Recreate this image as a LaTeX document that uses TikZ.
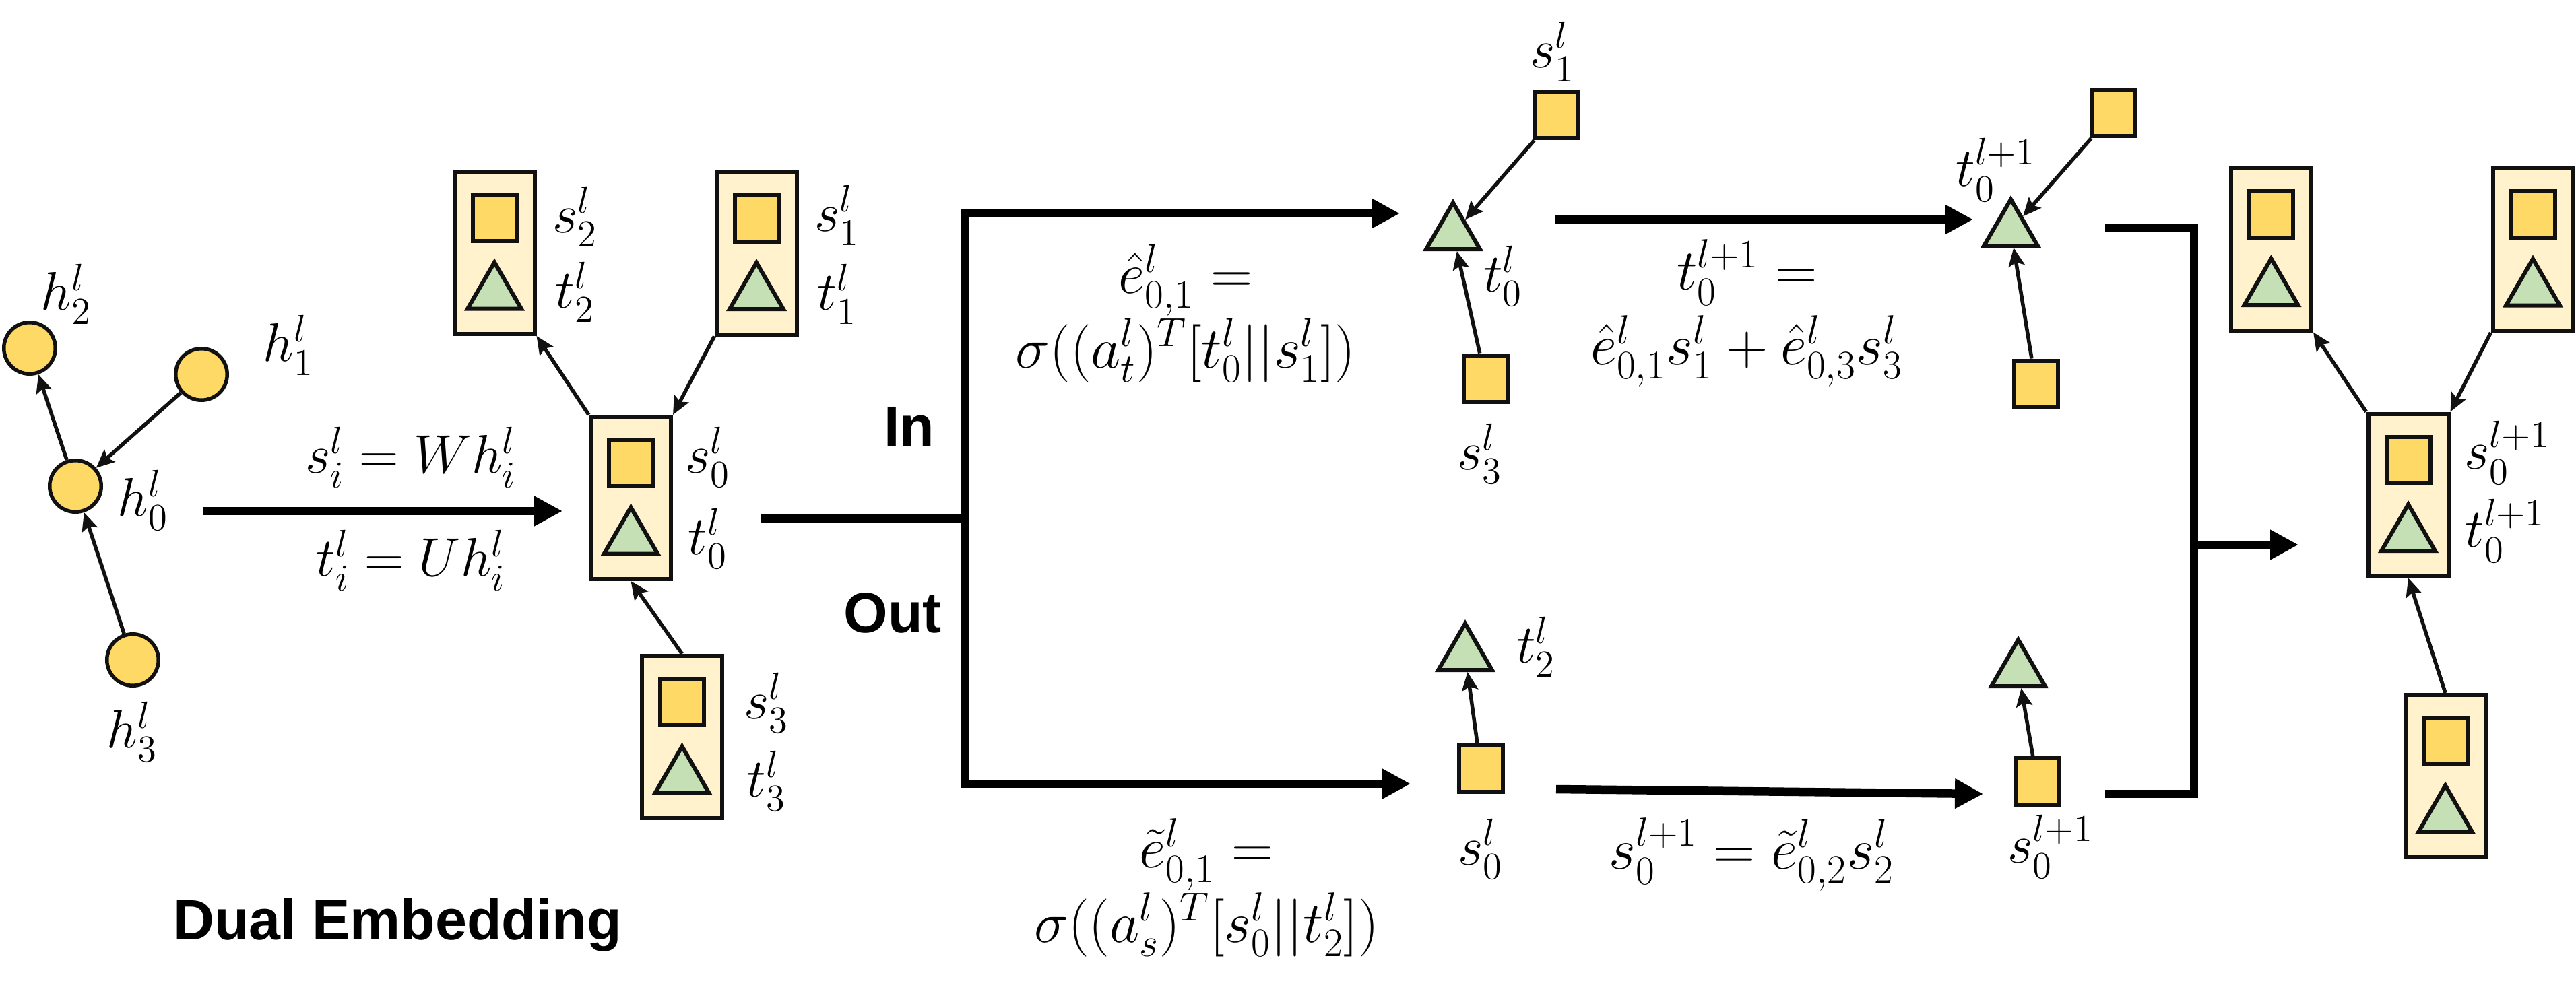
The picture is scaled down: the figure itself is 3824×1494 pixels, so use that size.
\documentclass[tikz,border=0pt]{standalone}
\usepackage{fix-cm}
\usepackage{amsmath}
\usepackage[no-math]{fontspec}
\newfontfamily\arialfont{Liberation Sans}
\usetikzlibrary{arrows.meta,shapes.geometric,calc}
\definecolor{gold}{HTML}{FFD966}
\definecolor{leaf}{HTML}{C5E0B4}
\definecolor{cream}{HTML}{FFF2CC}
\definecolor{ink}{HTML}{111111}
\tikzset{
 circ/.style={circle, draw=ink, fill=gold, line width=0.55mm, minimum size=7.65mm, inner sep=0pt},
 sq/.style={rectangle, draw=ink, fill=gold, line width=0.6mm, minimum width=6.5mm, minimum height=6.9mm, inner sep=0pt},
 tri/.style={regular polygon, regular polygon sides=3, draw=ink, fill=leaf, line width=0.6mm, minimum size=9.2mm, inner sep=0pt},
 dbox/.style={rectangle, draw=ink, fill=cream, line width=0.6mm, minimum width=11.9mm, minimum height=24.1mm, inner sep=0pt},
 lbl/.style={inner sep=0pt, font=\fontsize{23}{27}\selectfont},
 eqlbl/.style={inner sep=0pt, align=center, font=\fontsize{24.5}{31.5}\selectfont},
 boldlbl/.style={inner sep=0pt, font=\arialfont\bfseries\fontsize{24}{28}\selectfont},
 arr/.style={draw=ink, line width=0.55mm, -{Stealth[length=2.7mm,width=2.4mm,inset=0.5mm]}},
 thk/.style={draw=black, line width=1.25mm},
 bigtip/.style={-{Triangle[length=4.2mm,width=4.2mm]}},
 bothtips/.style={{Triangle[length=4.2mm,width=4.2mm]}-{Triangle[length=4.2mm,width=4.2mm]}},
}
\newcommand{\dualbox}[3]{%
 \node[dbox] (#1) at (#2,#3) {};
 \node[sq] (#1s) at ($(#1)+(0,-52)$) {};
 \node[tri] (#1t) at ($(#1)+(0,60)$) {};
}
\begin{document}
\begin{tikzpicture}[x=0.1mm,y=-0.1mm]
\useasboundingbox (0,0) rectangle (3824,1494);

% left graph
\node[circ] (h2) at (44,517) {};
\node[circ] (h1) at (299,556) {};
\node[circ] (h0) at (112,722) {};
\node[circ] (h3) at (197,980) {};
\node[lbl] (lh2) at (98,437) {$h^l_2$};
\node[lbl] (lh1) at (428,513) {$h^l_1$};
\node[lbl] (lh0) at (212,743) {$h^l_0$};
\node[lbl] (lh3) at (196,1087) {$h^l_3$};
\draw[arr] (h0) -- (h2);
\draw[arr] (h1) -- (h0);
\draw[arr] (h3) -- (h0);

% embedding arrow
\coordinate (a1s) at (302,759);
\coordinate (a1e) at (835,759);
\draw[thk,bigtip] (a1s) -- (a1e);
\node[lbl] (eqs) at (610,679) {$s^l_i = Wh^l_i$};
\node[lbl] (eqt) at (610,832) {$t^l_i = Uh^l_i$};

% dual boxes (left)
\dualbox{B2}{734}{375.5}
\dualbox{B1}{1123}{376}
\dualbox{C0}{936.5}{739.5}
\dualbox{B3}{1012.5}{1094.5}
\node[lbl] (ls2) at (854,322) {$s^l_2$};
\node[lbl] (lt2) at (854,434) {$t^l_2$};
\node[lbl] (ls1) at (1243,320) {$s^l_1$};
\node[lbl] (lt1) at (1243,437) {$t^l_1$};
\node[lbl] (ls0) at (1051,679) {$s^l_0$};
\node[lbl] (lt0) at (1051,800) {$t^l_0$};
\node[lbl] (ls3) at (1138,1044) {$s^l_3$};
\node[lbl] (lt3) at (1138,1160) {$t^l_3$};
\draw[arr] (C0.north west) -- (B2.south east);
\draw[arr] (B1.south west) -- (C0.north east);
\draw[arr] (B3.north) -- (C0.south);

\node[boldlbl] (dual) at (590,1374) {Dual Embedding};

% split
\coordinate (c0o) at (1129,770);
\coordinate (jn) at (1432,770);
\coordinate (inT) at (2078,317);
\coordinate (outT) at (2094,1164);
\draw[thk] (c0o) -- (jn);
\draw[thk,bothtips] (inT) -| (jn) |- (outT);
\node[boldlbl] (inl) at (1350,633) {In};
\node[boldlbl] (outl) at (1325,910) {Out};

% In branch
\node[tri] (ti) at (2157,347) {};
\node[sq] (si1) at (2310,171) {};
\node[sq] (si3) at (2205,562) {};
\draw[arr] (si1) -- (ti);
\draw[arr] (si3) -- (ti);
\node[lbl] (lsi1) at (2305,77) {$s^l_1$};
\node[lbl] (lti) at (2231,410) {$t^l_0$};
\node[lbl] (lsi3) at (2197,674) {$s^l_3$};
\node[eqlbl] (ehat) at (1760,465) {$\hat{e}^l_{0,1} =$\\$\sigma((a^l_t)^T[t^l_0||s^l_1])$};

\coordinate (m1s) at (2308,326);
\coordinate (m1e) at (2929,326);
\draw[thk,bigtip] (m1s) -- (m1e);
\node[eqlbl] (tup) at (2593,465) {$t^{l+1}_0 =$\\$\hat{e}^l_{0,1}s^l_1 + \hat{e}^l_{0,3}s^l_3$};

\node[tri] (ri) at (2985,342) {};
\node[sq] (so1) at (3137,168) {};
\node[sq] (so3) at (3022,570) {};
\draw[arr] (so1) -- (ri);
\draw[arr] (so3) -- (ri);
\node[lbl] (lri) at (2963,252) {$t^{l+1}_0$};

% Out branch
\node[tri] (t2o) at (2175,972) {};
\node[sq] (s0o) at (2198,1141) {};
\draw[arr] (s0o) -- (t2o);
\node[lbl] (lt2o) at (2280,961) {$t^l_2$};
\node[lbl] (ls0o) at (2198,1261) {$s^l_0$};
\node[eqlbl] (etil) at (1791,1318) {$\tilde{e}^l_{0,1} =$\\$\sigma((a^l_s)^T[s^l_0||t^l_2])$};

\coordinate (m2s) at (2310,1172);
\coordinate (m2e) at (2944,1179);
\draw[thk,bigtip] (m2s) -- (m2e);
\node[eqlbl] (sup) at (2600,1269) {$s^{l+1}_0 = \tilde{e}^l_{0,2}s^l_2$};

\node[tri] (t2r) at (2996,996) {};
\node[sq] (s0r) at (3024,1160) {};
\draw[arr] (s0r) -- (t2r);
\node[lbl] (ls0r) at (3044,1257) {$s^{l+1}_0$};

% bracket
\coordinate (bt) at (3125,339);
\coordinate (bc) at (3257,1179);
\coordinate (bb) at (3125,1179);
\coordinate (bm) at (3257,809);
\coordinate (be) at (3412,809);
\draw[thk] (bt) -| (bc) -- (bb);
\draw[thk,bigtip] (bm) -- (be);

% right dual boxes
\dualbox{R1}{3371.5}{370}
\dualbox{R2}{3760}{370.5}
\dualbox{RC}{3575}{735}
\dualbox{RB}{3630}{1152.5}
\draw[arr] (RC.north west) -- (R1.south east);
\draw[arr] (R2.south west) -- (RC.north east);
\draw[arr] (RB.north) -- (RC.south);
\node[lbl] (lrs) at (3722,672) {$s^{l+1}_0$};
\node[lbl] (lrt) at (3719,788) {$t^{l+1}_0$};
\end{tikzpicture}
\end{document}
